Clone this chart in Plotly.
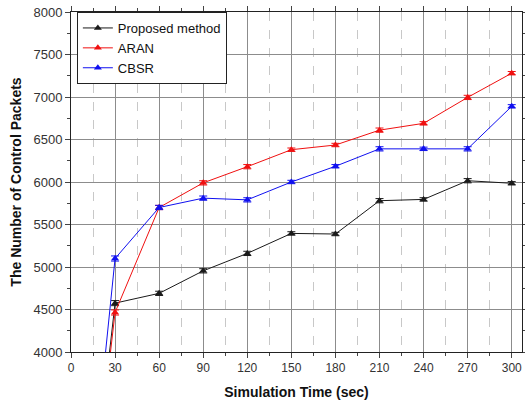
import plotly.graph_objects as go

time_sec = [0, 30, 60, 90, 120, 150, 180, 210, 240, 270, 300]
proposed = [0, 4575, 4690, 4955, 5160, 5395, 5388, 5780, 5795, 6015, 5985]
aran = [0, 4465, 5700, 5990, 6180, 6380, 6435, 6610, 6690, 6995, 7280]
cbsr = [0, 5100, 5700, 5810, 5790, 6000, 6185, 6390, 6390, 6390, 6890]
err = [0, 30, 25, 25, 25, 20, 20, 25, 20, 25, 20]

x_ticks = [0, 30, 60, 90, 120, 150, 180, 210, 240, 270, 300]
y_ticks = [4000, 4500, 5000, 5500, 6000, 6500, 7000, 7500, 8000]

series = [
    ("Proposed method", proposed, "#1a1a1a"),
    ("ARAN", aran, "#f01010"),
    ("CBSR", cbsr, "#1010f0"),
]

FONT = "Liberation Sans, Arial, sans-serif"

fig = go.Figure()
for name, vals, col in series:
    fig.add_trace(go.Scatter(
        x=time_sec, y=vals, name=name, mode="lines+markers",
        line=dict(color=col, width=1),
        marker=dict(symbol="triangle-up", size=7, color=col),
        error_y=dict(type="data", array=err, color=col, thickness=1, width=4),
    ))

fig.update_layout(
    width=525, height=403,
    margin=dict(l=71, r=3, t=12, b=51),
    paper_bgcolor="white", plot_bgcolor="white",
    font=dict(family=FONT, size=12, color="#333333"),
    showlegend=True,
    legend=dict(x=0.013, y=1.0, xanchor="left", yanchor="top",
                bgcolor="white", bordercolor="#222222", borderwidth=1,
                font=dict(family=FONT, size=13, color="#111111"),
                tracegroupgap=0, itemwidth=30),
    xaxis=dict(
        range=[0, 307], tickvals=x_ticks, ticks="outside", ticklen=5,
        tickfont=dict(family=FONT, size=12, color="#333333"),
        showline=True, linecolor="#222222", linewidth=1, mirror="allticks",
        showgrid=True, gridcolor="#8c8c8c", gridwidth=1,
        zeroline=False, automargin=False,
        minor=dict(dtick=15, tick0=0, ticks="outside", ticklen=3, showgrid=True,
                   gridcolor="#c8c8c8", griddash="dash", gridwidth=1),
        title=dict(text="<b>Simulation Time (sec)</b>",
                   font=dict(family=FONT, size=14, color="#111111"),
                   standoff=12),
    ),
    yaxis=dict(
        range=[4000, 8000], tickvals=y_ticks, ticks="outside", ticklen=5,
        tickfont=dict(family=FONT, size=13, color="#333333"),
        showline=True, linecolor="#222222", linewidth=1, mirror="allticks",
        showgrid=True, gridcolor="#8c8c8c", gridwidth=1,
        zeroline=False, automargin=False,
        minor=dict(dtick=250, tick0=0, ticks="outside", ticklen=3, showgrid=False),
        title=dict(text="<b>The Number of Control Packets</b>",
                   font=dict(family=FONT, size=14, color="#111111"),
                   standoff=8),
    ),
)

fig.write_html("out.html", config={"displayModeBar": False},
               post_script="document.body.style.margin='0px';")
